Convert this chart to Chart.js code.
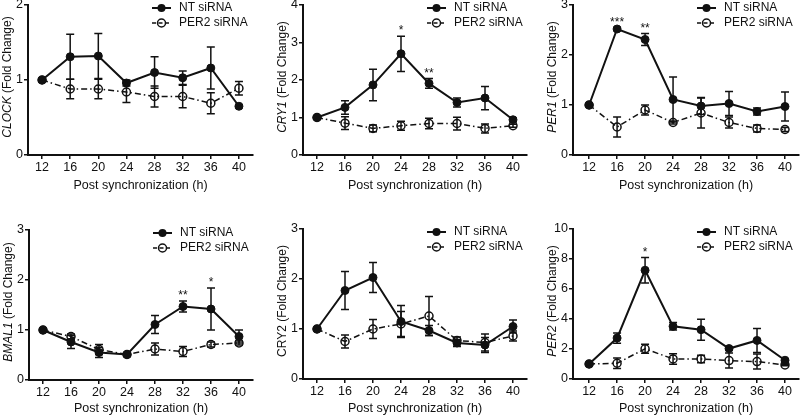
<!DOCTYPE html>
<html>
<head>
<meta charset="utf-8">
<script src="https://cdn.jsdelivr.net/npm/chart.js@4/dist/chart.umd.min.js"></script>
<style>
	html, body { margin: 0; padding: 0; background: #fff; }
	#wrap { position: relative; width: 800px; height: 418px; overflow: hidden; }
	#wrap canvas { position: absolute; left: 0; top: 0; }
</style>
</head>
<body>
<div id="wrap"></div>
<script>
// Ore dopo la sincronizzazione
const hours = [12, 16, 20, 24, 28, 32, 36, 40];

// CLOCK
const clockNT = [1.00, 1.31, 1.32, 0.96, 1.10, 1.03, 1.16, 0.65];
const clockNTErr = [0.02, 0.30, 0.30, 0.04, 0.21, 0.09, 0.28, 0.02];
const clockKD = [1.00, 0.88, 0.88, 0.84, 0.78, 0.78, 0.69, 0.89];
const clockKDErr = [0.02, 0.13, 0.13, 0.14, 0.14, 0.15, 0.14, 0.09];
const clockStars = ['', '', '', '', '', '', '', ''];

// CRY1
const cry1NT = [1.00, 1.27, 1.87, 2.70, 1.91, 1.40, 1.52, 0.94];
const cry1NTErr = [0.02, 0.18, 0.42, 0.47, 0.13, 0.12, 0.31, 0.05];
const cry1KD = [1.00, 0.85, 0.71, 0.78, 0.84, 0.84, 0.71, 0.78];
const cry1KDErr = [0.02, 0.17, 0.09, 0.12, 0.14, 0.17, 0.12, 0.04];
const cry1Stars = ['', '', '', '*', '**', '', '', ''];

// PER1
const per1NT = [1.00, 2.52, 2.31, 1.11, 0.98, 1.03, 0.87, 0.97];
const per1NTErr = [0.02, 0.03, 0.12, 0.45, 0.17, 0.24, 0.07, 0.29];
const per1KD = [1.00, 0.56, 0.90, 0.65, 0.84, 0.65, 0.53, 0.51];
const per1KDErr = [0.02, 0.20, 0.10, 0.03, 0.30, 0.11, 0.07, 0.04];
const per1Stars = ['', '***', '**', '', '', '', '', ''];

// BMAL1
const bmal1NT = [1.00, 0.76, 0.55, 0.51, 1.11, 1.47, 1.42, 0.87];
const bmal1NTErr = [0.02, 0.13, 0.10, 0.04, 0.18, 0.11, 0.42, 0.13];
const bmal1KD = [1.00, 0.87, 0.61, 0.51, 0.62, 0.57, 0.71, 0.74];
const bmal1KDErr = [0.02, 0.05, 0.10, 0.03, 0.12, 0.10, 0.05, 0.04];
const bmal1Stars = ['', '', '', '', '', '**', '*', ''];

// CRY2
const cry2NT = [1.00, 1.77, 2.03, 1.15, 0.97, 0.72, 0.68, 1.05];
const cry2NTErr = [0.02, 0.38, 0.30, 0.32, 0.10, 0.07, 0.15, 0.13];
const cry2KD = [1.00, 0.75, 1.00, 1.10, 1.26, 0.77, 0.73, 0.86];
const cry2KDErr = [0.02, 0.13, 0.19, 0.25, 0.39, 0.07, 0.17, 0.10];
const cry2Stars = ['', '', '', '', '', '', '', ''];

// PER2
const per2NT = [1.00, 2.73, 7.25, 3.51, 3.29, 2.03, 2.57, 1.25];
const per2NTErr = [0.05, 0.34, 0.85, 0.25, 0.70, 0.10, 0.80, 0.10];
const per2KD = [1.00, 1.05, 2.01, 1.34, 1.34, 1.23, 1.16, 0.94];
const per2KDErr = [0.05, 0.35, 0.30, 0.35, 0.25, 0.50, 0.50, 0.05];
const per2Stars = ['', '', '*', '', '', '', '', ''];

const legendLabels = ['NT siRNA', 'PER2 siRNA'];
const xTitle = 'Post synchronization (h)';
const yTitleRest = ' (Fold Change)';

const FONT = "'Liberation Sans', Arial, Helvetica, sans-serif";
const INK = '#111';
const KD_DASH = [6, 3, 1.5, 3];

Chart.defaults.font.family = FONT;
Chart.defaults.font.size = 12.5;
Chart.defaults.color = INK;

// box = [sinistra, alto, destra, basso] dell'area del grafico
const panels = [
	{ gene: 'CLOCK', italic: true, nt: clockNT, ntErr: clockNTErr, kd: clockKD, kdErr: clockKDErr, stars: clockStars,
		yMax: 2, yStep: 1, box: [28, 5, 253, 155], xMin: 10, xMax: 42, titleY: 186 },
	{ gene: 'CRY1', italic: true, nt: cry1NT, ntErr: cry1NTErr, kd: cry1KD, kdErr: cry1KDErr, stars: cry1Stars,
		yMax: 4, yStep: 1, box: [303, 5, 527, 155], xMin: 10, xMax: 42, titleY: 186 },
	{ gene: 'PER1', italic: true, nt: per1NT, ntErr: per1NTErr, kd: per1KD, kdErr: per1KDErr, stars: per1Stars,
		yMax: 3, yStep: 1, box: [573, 5, 799, 155], xMin: 9.7, xMax: 42, titleY: 186 },
	{ gene: 'BMAL1', italic: true, nt: bmal1NT, ntErr: bmal1NTErr, kd: bmal1KD, kdErr: bmal1KDErr, stars: bmal1Stars,
		yMax: 3, yStep: 1, box: [29, 230, 253, 380], xMin: 10, xMax: 42, titleY: 409 },
	{ gene: 'CRY2', italic: false, nt: cry2NT, ntErr: cry2NTErr, kd: cry2KD, kdErr: cry2KDErr, stars: cry2Stars,
		yMax: 3, yStep: 1, box: [303, 229, 527, 379], xMin: 10, xMax: 42, titleY: 409 },
	{ gene: 'PER2', italic: true, nt: per2NT, ntErr: per2NTErr, kd: per2KD, kdErr: per2KDErr, stars: per2Stars,
		yMax: 10, yStep: 2, box: [573, 229, 799, 379], xMin: 9.7, xMax: 42, titleY: 409 },
];

const Y_W = 30;

function drawMarker(ctx, x, y, filled) {
	ctx.beginPath();
	ctx.arc(x, y, 4, 0, Math.PI * 2);
	if (filled) {
		ctx.fillStyle = INK;
		ctx.fill();
	} else {
		ctx.lineWidth = 1.5;
		ctx.strokeStyle = INK;
		ctx.stroke();
	}
}

// Barre d'errore, asterischi, legenda e titolo asse y
function extras(p) {
	return {
		id: 'extras',
		afterDatasetsDraw(chart) {
			let ctx = chart.ctx;
			let xs = chart.scales.x, ys = chart.scales.y;
			let area = chart.chartArea;
			ctx.save();
			ctx.strokeStyle = INK;
			ctx.lineWidth = 1.5;
			ctx.setLineDash([]);
			[[p.nt, p.ntErr], [p.kd, p.kdErr]].forEach(([m, e]) => {
				hours.forEach((h, i) => {
					let x = xs.getPixelForValue(h);
					let y1 = ys.getPixelForValue(m[i] + e[i]);
					let y2 = ys.getPixelForValue(Math.max(0, m[i] - e[i]));
					ctx.beginPath();
					ctx.moveTo(x, y1); ctx.lineTo(x, y2);
					ctx.moveTo(x - 4, y1); ctx.lineTo(x + 4, y1);
					ctx.moveTo(x - 4, y2); ctx.lineTo(x + 4, y2);
					ctx.stroke();
				});
			});

			// asterischi di significatività
			ctx.fillStyle = INK;
			ctx.font = `12px ${FONT}`;
			ctx.textAlign = 'center';
			ctx.textBaseline = 'alphabetic';
			p.stars.forEach((s, i) => {
				if (!s) return;
				let top = Math.max(p.nt[i] + p.ntErr[i], p.kd[i] + p.kdErr[i]);
				ctx.fillText(s, xs.getPixelForValue(hours[i]), ys.getPixelForValue(top) - 2);
			});

			// legenda
			let lx = area.left + 124;
			let rows = [area.top + 3, area.top + 18];
			ctx.font = `12px ${FONT}`;
			ctx.textAlign = 'left';
			ctx.textBaseline = 'middle';
			rows.forEach((ry, k) => {
				ctx.beginPath();
				ctx.lineWidth = k === 0 ? 2 : 1.5;
				ctx.setLineDash(k === 0 ? [] : [4, 2.5]);
				ctx.moveTo(lx, ry); ctx.lineTo(lx + 19, ry);
				ctx.stroke();
				ctx.setLineDash([]);
				drawMarker(ctx, lx + 9.5, ry, k === 0);
				ctx.fillStyle = INK;
				ctx.fillText(legendLabels[k], lx + 27, ry);
			});

			// titolo asse y: nome del gene in corsivo
			let italicFont = `${p.italic ? 'italic ' : ''}12px ${FONT}`;
			let normalFont = `12px ${FONT}`;
			ctx.font = italicFont;
			let w1 = ctx.measureText(p.gene).width;
			ctx.font = normalFont;
			let w2 = ctx.measureText(yTitleRest).width;
			ctx.translate(area.left - 20, (area.top + area.bottom) / 2 - 3);
			ctx.rotate(-Math.PI / 2);
			let start = -(w1 + w2) / 2;
			ctx.font = italicFont;
			ctx.fillText(p.gene, start, 0);
			ctx.font = normalFont;
			ctx.fillText(yTitleRest, start + w1, 0);
			ctx.restore();
		}
	};
}

function makePanel(p) {
	let canvas = document.createElement('canvas');
	canvas.width = 800;
	canvas.height = 418;
	document.getElementById('wrap').appendChild(canvas);

	let [L, T, R, B] = p.box;
	let xH = p.titleY - B + 7.5;

	new Chart(canvas, {
		type: 'line',
		data: {
			datasets: [
				{
					label: legendLabels[0],
					data: hours.map((h, i) => ({ x: h, y: p.nt[i] })),
					borderColor: INK,
					borderWidth: 2,
					pointRadius: 4,
					pointBackgroundColor: INK,
					pointBorderColor: INK,
					pointBorderWidth: 1,
					tension: 0,
					clip: false,
				},
				{
					label: legendLabels[1],
					data: hours.map((h, i) => ({ x: h, y: p.kd[i] })),
					borderColor: INK,
					borderWidth: 1.5,
					borderDash: KD_DASH,
					pointRadius: 4,
					pointBackgroundColor: 'rgba(0,0,0,0)',
					pointBorderColor: INK,
					pointBorderWidth: 1.5,
					tension: 0,
					clip: false,
				}
			]
		},
		options: {
			responsive: false,
			animation: false,
			devicePixelRatio: 1,
			events: [],
			layout: {
				autoPadding: false,
				padding: { left: L - Y_W, top: T, right: 800 - R, bottom: 418 - B - xH }
			},
			plugins: {
				legend: { display: false },
				tooltip: { enabled: false },
			},
			scales: {
				x: {
					type: 'linear',
					min: p.xMin,
					max: p.xMax,
					afterBuildTicks: s => { s.ticks = hours.map(h => ({ value: h })); },
					afterFit: s => { s.height = xH; s.paddingLeft = 0; s.paddingRight = 0; },
					ticks: { padding: 1, color: INK, maxRotation: 0, autoSkip: false },
					grid: { drawOnChartArea: false, drawTicks: true, tickLength: 4, color: INK, lineWidth: 1.5 },
					border: { display: true, color: INK, width: 2 },
					title: { display: true, text: xTitle, color: INK, padding: 0, font: { size: 12.5 } },
				},
				y: {
					type: 'linear',
					min: 0,
					max: p.yMax,
					ticks: { stepSize: p.yStep, padding: 1, color: INK },
					afterFit: s => { s.width = Y_W; s.paddingTop = 0; s.paddingBottom = 0; },
					grid: { drawOnChartArea: false, drawTicks: true, tickLength: 4, color: INK, lineWidth: 1.5 },
					border: { display: true, color: INK, width: 2 },
				}
			}
		},
		plugins: [extras(p)]
	});
}

panels.forEach(makePanel);
</script>
</body>
</html>
